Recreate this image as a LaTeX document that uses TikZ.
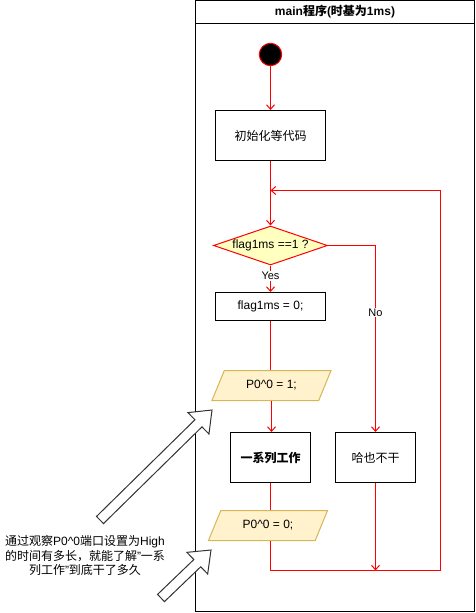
\documentclass[tikz,border=0pt]{standalone}
\usepackage{fontspec}
\setmainfont{Liberation Sans}
\newfontfamily\cjk{Noto Sans CJK SC}
\newcommand\C[1]{{\cjk #1}}
\usetikzlibrary{arrows.meta,shapes.geometric,calc}
\definecolor{flred}{HTML}{FF0000}
\definecolor{dyellow}{HTML}{FFFFC0}
\definecolor{pfill}{HTML}{FFF2CC}
\definecolor{pdraw}{HTML}{D6B656}
\begin{document}
\begin{tikzpicture}[x=1pt,y=-1pt, font=\fontsize{12}{14}\selectfont,
 box/.style={draw=black, line width=1pt, minimum width=110pt, minimum height=50pt, inner sep=0pt},
 flow/.style={draw=flred, line width=1pt},
 arr/.style={flow, -{Straight Barb[length=4.5pt,width=8pt]}},
 io/.style={trapezium, trapezium left angle=56.3, trapezium right angle=123.7, trapezium stretches=true, draw=pdraw, fill=pfill, line width=1pt, minimum width=119.5pt, minimum height=30pt, inner sep=0pt},
 lbl/.style={fill=white, inner sep=1pt, font=\fontsize{11}{13}\selectfont},
 blockarrow/.style={draw=black!80, fill=white, line width=1pt, line join=miter}]
\useasboundingbox (0,0) rectangle (476,613);
% pool
\draw[line width=1pt] (195.5,0.5) rectangle (474.5,611.5);
\draw[line width=1pt] (195.5,23.5) -- (474.5,23.5);
\node (title) at (335,12) {\bfseries main\C{程序}(\C{时基为}1ms)};
% nodes
\node[circle, draw=flred, fill=black, minimum size=22.4pt, inner sep=0pt, line width=1pt] (start) at (270.5,54.5) {};
\node[box] (init) at (270.5,135.5) {\C{初始化等代码}};
\node[diamond, draw=flred, fill=dyellow, line width=1pt, minimum width=114pt, minimum height=39pt, aspect=3, inner sep=0pt] (dec) at (270.5,245.5) {flag1ms ==1 ?};
\node[box, minimum height=28pt] (flag) at (270.5,306.5) {flag1ms = 0;};
\node[io] (p1) at (271.5,385.5) {P0\textasciicircum0 = 1;};
\node[box, minimum width=80pt] (work) at (270.5,457.5) {\bfseries\C{一系列工作}};
\node[box, minimum width=80pt] (idle) at (375.5,457.5) {\C{哈也不干}};
\node[io] (p2) at (268,525.5) {P0\textasciicircum0 = 0;};
% junctions
\coordinate (loopin) at (270.5,190.5);
\coordinate (loopR) at (440.5,190.5);
\coordinate (botL) at (270.5,570.5);
\coordinate (merge) at (375.5,570.5);
\coordinate (noC) at (375.5,245.5);
% edges
\draw[arr] (start) -- (init);
\draw[arr] (init) -- (dec);
\draw[arr] (dec) -- node[lbl, pos=0.385]{Yes} (flag);
\draw[flow] (flag.south) -- (flag.south |- p1.north);
\draw[arr] (p1.south) -- (p1.south |- work.north);
\draw[flow] (work.south) -- (work.south |- p2.north);
\draw[arr] (botL |- p2.south) -- (botL) -| (loopR) -- (loopin);
\draw[arr] (dec.east) -- (noC) -- node[lbl, pos=0.36]{No} (idle.north);
\draw[arr] (idle) -- (merge);
% block arrows
\draw[blockarrow] (103.50,523.57) -- (201.95,426.88) -- (208.96,434.01) -- (212,410) -- (187.94,412.61) -- (194.95,419.74) -- (96.50,516.43) -- cycle;
\draw[blockarrow] (164.46,601.61) -- (200.75,566.77) -- (207.68,573.98) -- (211,550) -- (186.90,552.34) -- (193.83,559.55) -- (157.54,594.39) -- cycle;
% note
\node[align=center, font=\fontsize{12}{14.5}\selectfont, inner sep=0pt] (note) at (85,555.5) {\C{通过观察}P0\textasciicircum0\C{端口设置为}High\\\C{的时间有多长，就能了解}"\C{一系}\\\C{列工作}"\C{到底干了多久}};
\end{tikzpicture}
\end{document}
